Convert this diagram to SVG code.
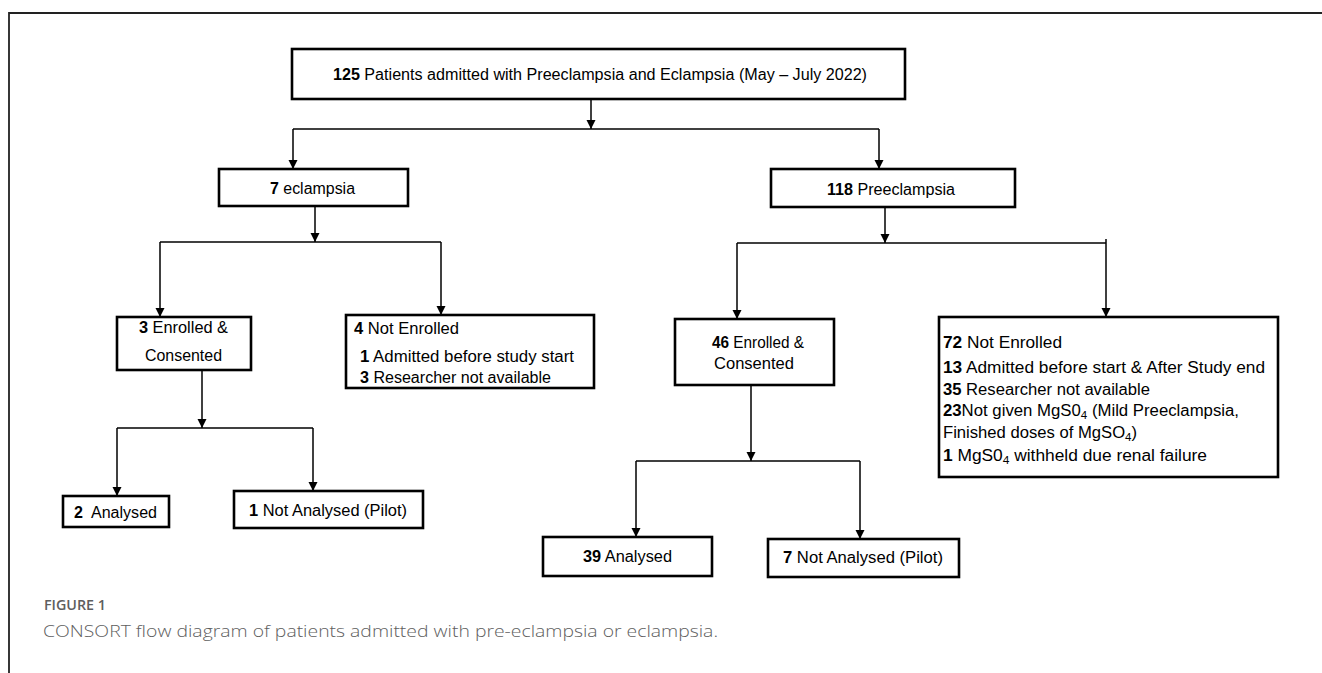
<svg xmlns="http://www.w3.org/2000/svg" width="1322" height="673" viewBox="0 0 1322 673">
<style>
.box{fill:#fff;stroke:#000;stroke-width:2.6}
.t{font-family:"Liberation Sans",Arial,sans-serif;font-size:16px;fill:#000}
.b{font-weight:bold}
.c{stroke:#000;stroke-width:1.5;fill:none}
.a{marker-end:url(#ah)}
.frame{stroke:#222;stroke-width:1.8;fill:none}
.cap{font-family:"Open Sans","Liberation Sans",sans-serif;fill:#5e5e5e}
.sub{font-size:11px}
</style>
<defs>
<marker id="ah" markerUnits="userSpaceOnUse" markerWidth="10" markerHeight="10" refX="9" refY="4.5" orient="auto">
<path d="M0,0 L9,4.5 L0,9 z" fill="#000"/>
</marker>
</defs>
<rect width="1322" height="673" fill="#fff"/>
<path class="frame" d="M9,673 V13 H1322"/>

<g id="connectors">
<path class="c a" d="M591,99 V129"/>
<path class="c" d="M293,129 H879"/>
<path class="c a" d="M293,129 V169"/>
<path class="c a" d="M879,129 V169"/>
<path class="c a" d="M315,206 V242"/>
<path class="c" d="M160,242 H441"/>
<path class="c a" d="M160,242 V317"/>
<path class="c a" d="M441,242 V315"/>
<path class="c a" d="M885,207 V243"/>
<path class="c" d="M737,243 H1106"/>
<path class="c" d="M1106,239 V243"/>
<path class="c a" d="M737,243 V319"/>
<path class="c a" d="M1106,243 V317"/>
<path class="c a" d="M202,370 V428"/>
<path class="c" d="M117,428 H313"/>
<path class="c a" d="M117,428 V496"/>
<path class="c a" d="M313,428 V491"/>
<path class="c a" d="M751,385 V461"/>
<path class="c" d="M636,461 H860"/>
<path class="c a" d="M636,461 V537"/>
<path class="c a" d="M860,461 V539"/>
</g>

<g id="n-total">
<rect class="box" x="292" y="49" width="613" height="50"/>
<text class="t" x="333" y="80" textLength="534" lengthAdjust="spacingAndGlyphs"><tspan class="b">125</tspan> Patients admitted with Preeclampsia and Eclampsia (May – July 2022)</text>
</g>

<g id="n-eclampsia">
<rect class="box" x="219" y="169" width="189" height="37"/>
<text class="t" x="270" y="194" textLength="85" lengthAdjust="spacingAndGlyphs"><tspan class="b">7</tspan> eclampsia</text>
</g>

<g id="n-preeclampsia">
<rect class="box" x="771" y="169" width="244" height="38"/>
<text class="t" x="827" y="195" textLength="128" lengthAdjust="spacingAndGlyphs"><tspan class="b">118</tspan> Preeclampsia</text>
</g>

<g id="n-e-enrolled">
<rect class="box" x="117" y="317" width="134" height="53"/>
<text class="t" x="139" y="333" textLength="89" lengthAdjust="spacingAndGlyphs"><tspan class="b">3</tspan> Enrolled &amp;</text>
<text class="t" x="145" y="361" textLength="77" lengthAdjust="spacingAndGlyphs">Consented</text>
</g>

<g id="n-e-notenrolled">
<rect class="box" x="346" y="315" width="248" height="73"/>
<text class="t" x="354" y="334" textLength="105" lengthAdjust="spacingAndGlyphs"><tspan class="b">4</tspan> Not Enrolled</text>
<text class="t" x="360" y="362" textLength="214" lengthAdjust="spacingAndGlyphs"><tspan class="b">1</tspan> Admitted before study start</text>
<text class="t" x="360" y="383" textLength="191" lengthAdjust="spacingAndGlyphs"><tspan class="b">3</tspan> Researcher not available</text>
</g>

<g id="n-p-enrolled">
<rect class="box" x="675" y="319" width="159" height="66"/>
<text class="t" x="712" y="348" textLength="92" lengthAdjust="spacingAndGlyphs"><tspan class="b">46</tspan> Enrolled &amp;</text>
<text class="t" x="714" y="369" textLength="80" lengthAdjust="spacingAndGlyphs">Consented</text>
</g>

<g id="n-p-notenrolled">
<rect class="box" x="939" y="317" width="339" height="160"/>
<text class="t" x="943" y="348" textLength="119" lengthAdjust="spacingAndGlyphs"><tspan class="b">72</tspan> Not Enrolled</text>
<text class="t" x="943" y="373" textLength="322" lengthAdjust="spacingAndGlyphs"><tspan class="b">13</tspan> Admitted before start &amp; After Study end</text>
<text class="t" x="943" y="395" textLength="207" lengthAdjust="spacingAndGlyphs"><tspan class="b">35</tspan> Researcher not available</text>
<text class="t" x="943" y="416" textLength="296" lengthAdjust="spacingAndGlyphs"><tspan class="b">23</tspan>Not given MgS0<tspan class="sub" dy="3">4</tspan><tspan dy="-3"> (Mild Preeclampsia,</tspan></text>
<text class="t" x="943" y="438" textLength="194" lengthAdjust="spacingAndGlyphs">Finished doses of MgSO<tspan class="sub" dy="3">4</tspan><tspan dy="-3">)</tspan></text>
<text class="t" x="943" y="461" textLength="264" lengthAdjust="spacingAndGlyphs"><tspan class="b">1</tspan> MgS0<tspan class="sub" dy="3">4</tspan><tspan dy="-3"> withheld due renal failure</tspan></text>
</g>

<g id="n-e-analysed">
<rect class="box" x="63" y="496" width="106" height="31"/>
<text class="t" x="74" y="518" xml:space="preserve" style="white-space:pre" textLength="83" lengthAdjust="spacingAndGlyphs"><tspan class="b">2</tspan>  Analysed</text>
</g>

<g id="n-e-pilot">
<rect class="box" x="234" y="491" width="189" height="37"/>
<text class="t" x="249" y="516" textLength="158" lengthAdjust="spacingAndGlyphs"><tspan class="b">1</tspan> Not Analysed (Pilot)</text>
</g>

<g id="n-p-analysed">
<rect class="box" x="543" y="537" width="169" height="39"/>
<text class="t" x="583" y="562" textLength="89" lengthAdjust="spacingAndGlyphs"><tspan class="b">39</tspan> Analysed</text>
</g>

<g id="n-p-pilot">
<rect class="box" x="768" y="539" width="191" height="38"/>
<text class="t" x="783" y="563" textLength="160" lengthAdjust="spacingAndGlyphs"><tspan class="b">7</tspan> Not Analysed (Pilot)</text>
</g>

<g id="caption">
<text class="cap" x="44" y="610" style="font-size:14px;font-weight:600" textLength="62" lengthAdjust="spacingAndGlyphs">FIGURE 1</text>
<text class="cap" x="43" y="637" style="font-size:16.5px;font-weight:300" textLength="675" lengthAdjust="spacingAndGlyphs">CONSORT flow diagram of patients admitted with pre-eclampsia or eclampsia.</text>
</g>
</svg>
